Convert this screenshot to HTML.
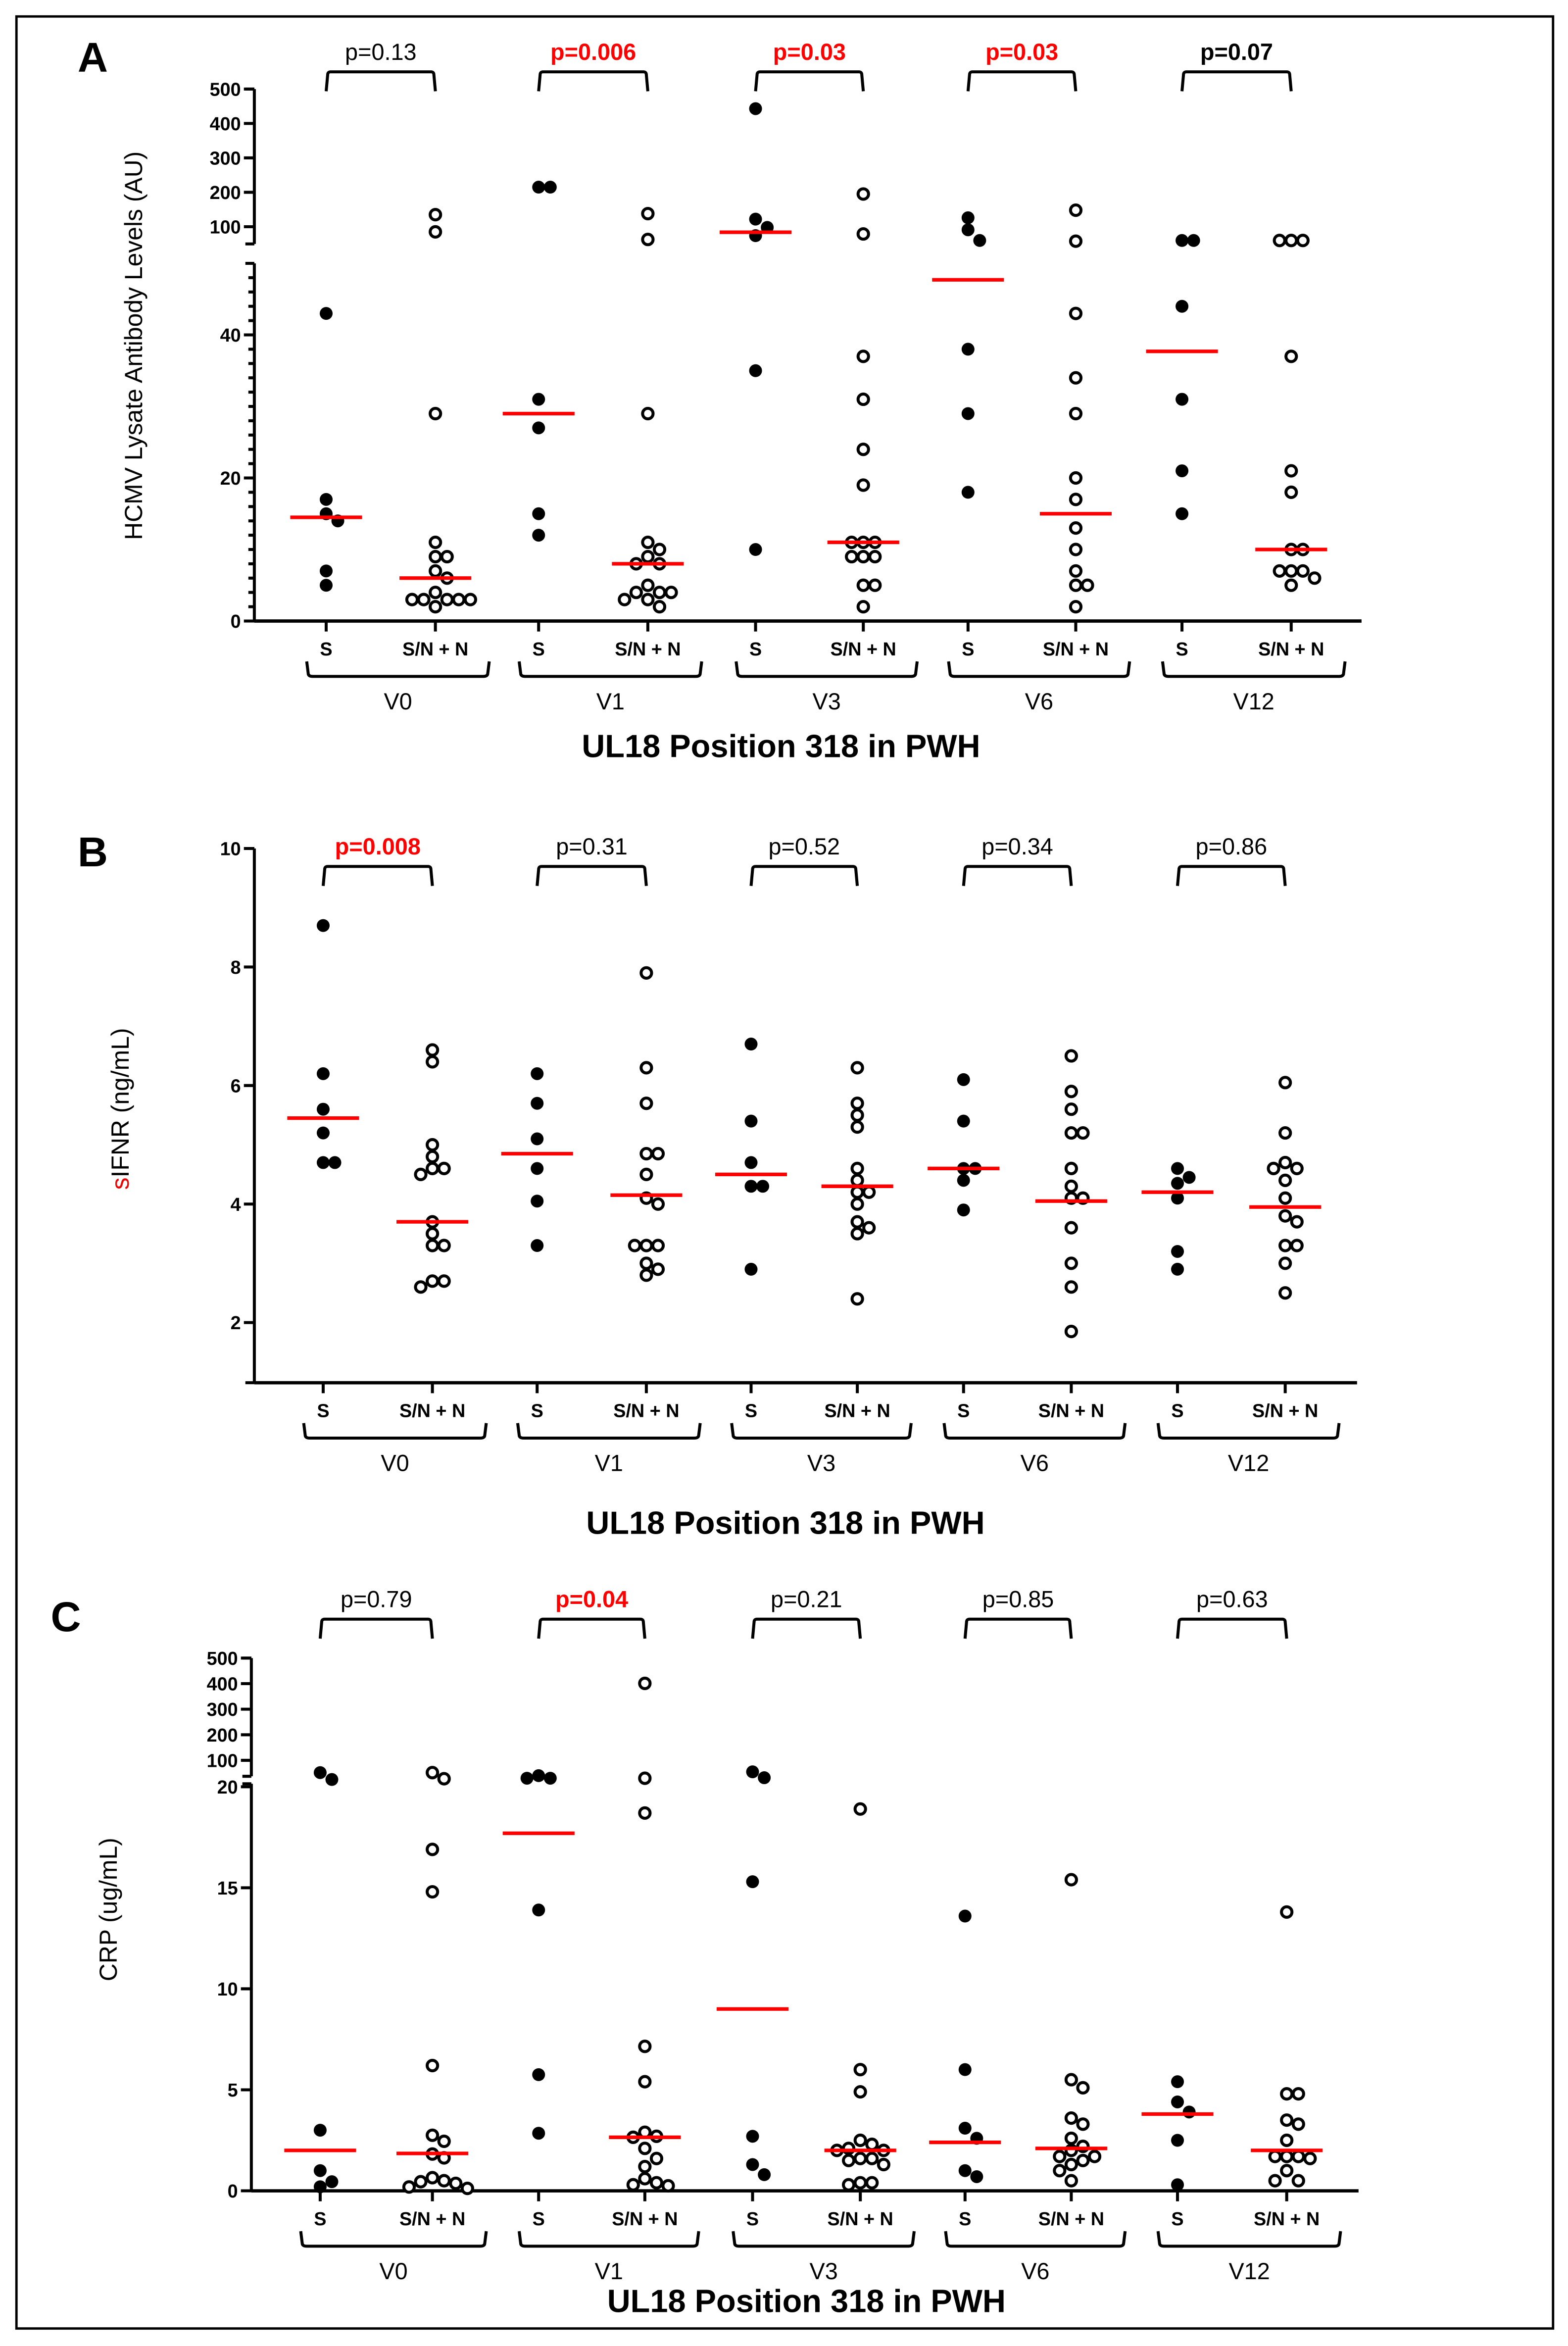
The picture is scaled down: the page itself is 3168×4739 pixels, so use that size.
<!DOCTYPE html>
<html><head><meta charset="utf-8"><style>
html,body{margin:0;padding:0;background:#fff}
svg{display:block}
text{font-family:"Liberation Sans",Arial,sans-serif}
</style></head><body>
<svg id="fig" xmlns="http://www.w3.org/2000/svg" width="3168" height="4739" viewBox="0 0 1048 1567.7" preserveAspectRatio="none">
<rect x="11" y="11" width="1027" height="1545" fill="none" stroke="#000" stroke-width="1.6"/>
</svg>
<script>
// ---------- shared category labels ----------
const visitLabels = ["V0","V1","V3","V6","V12"];
const groupLabels = ["S","S/N + N"];

// ---------- Panel A: HCMV lysate antibody levels ----------
const aS = [[43,17,15,14,7,5],[215,215,31,27,15,12],[443,122,98,74,35,10],[126,91,60,38,29,18],[60,60,44,31,21,15]];
const aSN = [[135,85,29,11,9,9,7,6,4,3,3,3,3,3,2],[138,63,29,11,10,9,8,8,5,4,4,4,3,3,2],[195,79,37,31,24,19,11,11,11,9,9,9,5,5,2],[148,58,43,34,29,20,17,13,10,7,5,5,2],[60,60,60,37,21,18,10,10,7,7,7,6,5]];
const aMedS = [14.5,29,84,47.7,37.7];
const aMedSN = [6,8,11,15,10];
const aP = ["p=0.13","p=0.006","p=0.03","p=0.03","p=0.07"];
const aPStyle = ["n","r","r","r","b"];

// ---------- Panel B: sIFNR ----------
const bS = [[8.7,6.2,5.6,5.2,4.7,4.7],[6.2,5.7,5.1,4.6,4.05,3.3],[6.7,5.4,4.7,4.3,4.3,2.9],[6.1,5.4,4.6,4.6,4.4,3.9],[4.6,4.45,4.35,4.1,3.2,2.9]];
const bSN = [[6.6,6.4,5.0,4.8,4.6,4.6,4.5,3.7,3.5,3.3,3.3,2.7,2.7,2.6],[7.9,6.3,5.7,4.85,4.85,4.5,4.1,4.0,3.3,3.3,3.3,3.0,2.8,2.9],[6.3,5.7,5.5,5.3,4.6,4.4,4.2,4.2,4.0,3.7,3.6,3.5,2.4],[6.5,5.9,5.6,5.2,5.2,4.6,4.3,4.1,4.1,3.6,3.0,2.6,1.85],[6.05,5.2,4.7,4.6,4.6,4.4,4.1,3.8,3.7,3.3,3.3,3.0,2.5]];
const bMedS = [5.45,4.85,4.5,4.6,4.2];
const bMedSN = [3.7,4.15,4.3,4.05,3.95];
const bP = ["p=0.008","p=0.31","p=0.52","p=0.34","p=0.86"];
const bPStyle = ["r","n","n","n","n"];

// ---------- Panel C: CRP ----------
const cS = [[52,25,3.0,1.0,0.45,0.2],[40,30,30,13.9,5.75,2.85],[32,55,15.3,2.7,1.3,0.8],[13.6,6.0,3.1,2.6,1.0,0.7],[5.4,4.4,3.9,2.5,0.3]];
const cSN = [[52,28,16.9,14.8,6.2,2.75,2.45,1.82,1.63,0.65,0.5,0.45,0.37,0.19,0.12],[401,30,18.7,7.15,5.4,2.9,2.7,2.65,2.1,1.6,1.2,0.6,0.4,0.3,0.25],[18.9,6.0,4.9,2.5,2.3,2.1,2.0,2.0,1.6,1.6,1.5,1.3,0.4,0.4,0.3],[15.4,5.5,5.1,3.6,3.3,2.6,2.2,2.0,1.7,1.7,1.5,1.3,1.0,0.5],[13.8,4.8,4.8,3.5,3.3,2.5,1.7,1.7,1.7,1.6,1.0,0.5,0.5]];
const cMedS = [2.0,17.7,9.0,2.4,3.8];
const cMedSN = [1.85,2.65,2.0,2.1,2.0];
const cP = ["p=0.79","p=0.04","p=0.21","p=0.85","p=0.63"];
const cPStyle = ["n","r","n","n","n"];

const NS = "http://www.w3.org/2000/svg";
const svg = document.getElementById("fig");
function mk(tag, attrs, parent){
  const e = document.createElementNS(NS, tag);
  for (const k in attrs) e.setAttribute(k, attrs[k]);
  (parent||svg).appendChild(e);
  return e;
}
function txt(str, x, y, size, weight, fill, anchor, parent){
  const t = mk("text", {x:x, y:y, "font-size":size, "font-weight":weight, fill:fill, "text-anchor":anchor||"middle"}, parent);
  t.textContent = str;
  return t;
}

function yA(v){ return v <= 50 ? 415 - v*4.78 : 163 - (v-50)*0.23; }
function yB(v){ return 963 - 39.6*v; }
function yC(v){ return v <= 20 ? 1464 - 13.5*v : 1190 - (v-20)*0.17083; }

function beeswarm(vals, cx, yf){
  const order = vals.map((v,i)=>i).sort((a,b)=>vals[b]-vals[a]);
  const placed = [];
  const out = new Array(vals.length);
  const d = 7.8;
  for (const i of order){
    const y = yf(vals[i]);
    let k = 0, x;
    while (true){
      const off = k===0 ? 0 : (k%2===1 ? Math.ceil(k/2)*d : -Math.ceil(k/2)*d);
      x = cx + off;
      if (!placed.some(p => Math.hypot(p[0]-x, p[1]-y) < 7.6)) break;
      k++;
    }
    placed.push([x,y]);
    out[i] = [x,y];
  }
  return out;
}

function panel(cfg){
  const g = mk("g", {});
  
  
  const L = txt(cfg.letter, cfg.letterX, cfg.letterY, 28, "bold", "#000", "middle", g);
  
  
  const yt = mk("text", {transform:`translate(${cfg.ytX},${cfg.ytY}) rotate(-90)`, "font-size":cfg.ytSize, "text-anchor":"middle", fill:"#000"}, g);
  
  
  if (cfg.ytRedS){
    const s1 = mk("tspan", {fill:"#e00"}, yt); s1.textContent = "s";
    const s2 = mk("tspan", {}, yt); s2.textContent = cfg.yTitle;
  } else yt.textContent = cfg.yTitle;
  const ax = mk("g", {stroke:"#000", "stroke-width":2, fill:"none"}, g);
  
  
  for (const seg of cfg.segs){
    mk("line", {x1:cfg.ax, y1:seg[0], x2:cfg.ax, y2:seg[1]}, ax);
    mk("line", {x1:cfg.ax-6, y1:seg[0], x2:cfg.ax, y2:seg[0]}, ax);
    mk("line", {x1:cfg.ax-6, y1:seg[1], x2:cfg.ax, y2:seg[1]}, ax);
  }
  for (const t of cfg.ticks){
    const y = cfg.yf(t);
    mk("line", {x1:cfg.ax-7, y1:y, x2:cfg.ax, y2:y}, ax);
    const tl = txt(String(t), cfg.ax-9, y+4.5, 12.5, "bold", "#000", "end", g);
    
    
  }
  for (const t of (cfg.minor||[])){
    const y = cfg.yf(t);
    mk("line", {x1:cfg.ax-4, y1:y, x2:cfg.ax, y2:y}, ax);
  }
  const xa = mk("line", {x1:cfg.ax, y1:cfg.x0y, x2:cfg.axEnd, y2:cfg.x0y, stroke:"#000", "stroke-width":2.2}, g);
  
  
  for (let i=0;i<visitLabels.length;i++){
    const xs = cfg.cx[i][0], xn = cfg.cx[i][1];
    [xs,xn].forEach((x,j)=>{
      mk("line", {x1:x, y1:cfg.x0y, x2:x, y2:cfg.x0y+7, stroke:"#000", "stroke-width":2}, g);
      const cl = txt(groupLabels[j], x, cfg.x0y+23, 12.5, "bold", "#000", "middle", g);
      
      
    });
    const bl = xs-13, br = xn+36, by = cfg.x0y+27, bb = cfg.x0y+37;
    const brace = mk("path", {d:`M${bl},${by} L${bl+1},${bb-2} Q${bl+1},${bb} ${bl+4},${bb} L${br-4},${bb} Q${br-1},${bb} ${br-1},${bb-2} L${br},${by}`, stroke:"#000", "stroke-width":2, fill:"none"}, g);
    
    
    const vl = txt(visitLabels[i], (bl+br)/2, bb+22, 15.5, "normal", "#000", "middle", g);
    
    
    const pt = cfg.pY, pb = pt+13;
    const pbr = mk("path", {d:`M${xs},${pb} L${xs+1},${pt+2} Q${xs+1},${pt} ${xs+3},${pt} L${xn-3},${pt} Q${xn-1},${pt} ${xn-1},${pt+2} L${xn},${pb}`, stroke:"#000", "stroke-width":2, fill:"none"}, g);
    
    
    const st = cfg.pStyle[i];
    const pl = txt(cfg.p[i], (xs+xn)/2, pt-8, 15.5, st==="n"?"normal":"bold", st==="r"?"#ff0000":"#000", "middle", g);
    
    
    const pS = beeswarm(cfg.s[i], xs, cfg.yf);
    for (const p of pS){
      const c = mk("circle", {cx:p[0], cy:p[1], r:4.3, fill:"#000"}, g);
      
      
    }
    const pN = beeswarm(cfg.sn[i], xn, cfg.yf);
    for (const p of pN){
      const c = mk("circle", {cx:p[0], cy:p[1], r:3.5, fill:"#fff", stroke:"#000", "stroke-width":2}, g);
      
      
    }
    [[xs,cfg.medS[i]],[xn,cfg.medSN[i]]].forEach(m=>{
      const y = cfg.yf(m[1]);
      const ml = mk("line", {x1:m[0]-24, y1:y, x2:m[0]+24, y2:y, stroke:"#ff0000", "stroke-width":2.4}, g);
      
      
    });
  }
  const tt = txt("UL18 Position 318 in PWH", cfg.titleX, cfg.titleY, 21.5, "bold", "#000", "middle", g);
  
  
}

const minorA = []; for (let v=2; v<50; v+=2) if (v%20) minorA.push(v);
panel({name:"panel-a", letter:"A", letterX:62, letterY:48, yTitle:"HCMV Lysate Antibody Levels (AU)", ytSize:16.5, ytX:95, ytY:231,
  ax:170, axEnd:910, x0y:415, yf:yA, segs:[[59.5,163],[176,415]], ticks:[500,400,300,200,100,40,20,0], minor:minorA,
  cx:[[218,291],[360,433],[505,577],[647,719],[790,863]], pY:48, p:aP, pStyle:aPStyle,
  s:aS, sn:aSN, medS:aMedS, medSN:aMedSN, titleX:522, titleY:506});
panel({name:"panel-b", letter:"B", letterX:62, letterY:579, yTitle:"IFNR (ng/mL)", ytRedS:true, ytSize:16.5, ytX:86, ytY:741,
  ax:170, axEnd:907, x0y:924, yf:yB, segs:[[567,924]], ticks:[10,8,6,4,2],
  cx:[[216,289],[359,432],[502,573],[644,716],[787,859]], pY:579, p:bP, pStyle:bPStyle,
  s:bS, sn:bSN, medS:bMedS, medSN:bMedSN, titleX:525, titleY:1025});
panel({name:"panel-c", letter:"C", letterX:44, letterY:1090, yTitle:"CRP (ug/mL)", ytSize:16.5, ytX:78, ytY:1276,
  ax:168, axEnd:908, x0y:1464, yf:yC, segs:[[1108,1187],[1192,1464]], ticks:[500,400,300,200,100,20,15,10,5,0],
  cx:[[214,289],[360,431],[503,575],[645,716],[787,860]], pY:1082, p:cP, pStyle:cPStyle,
  s:cS, sn:cSN, medS:cMedS, medSN:cMedSN, titleX:539, titleY:1545});
</script>
</body></html>
